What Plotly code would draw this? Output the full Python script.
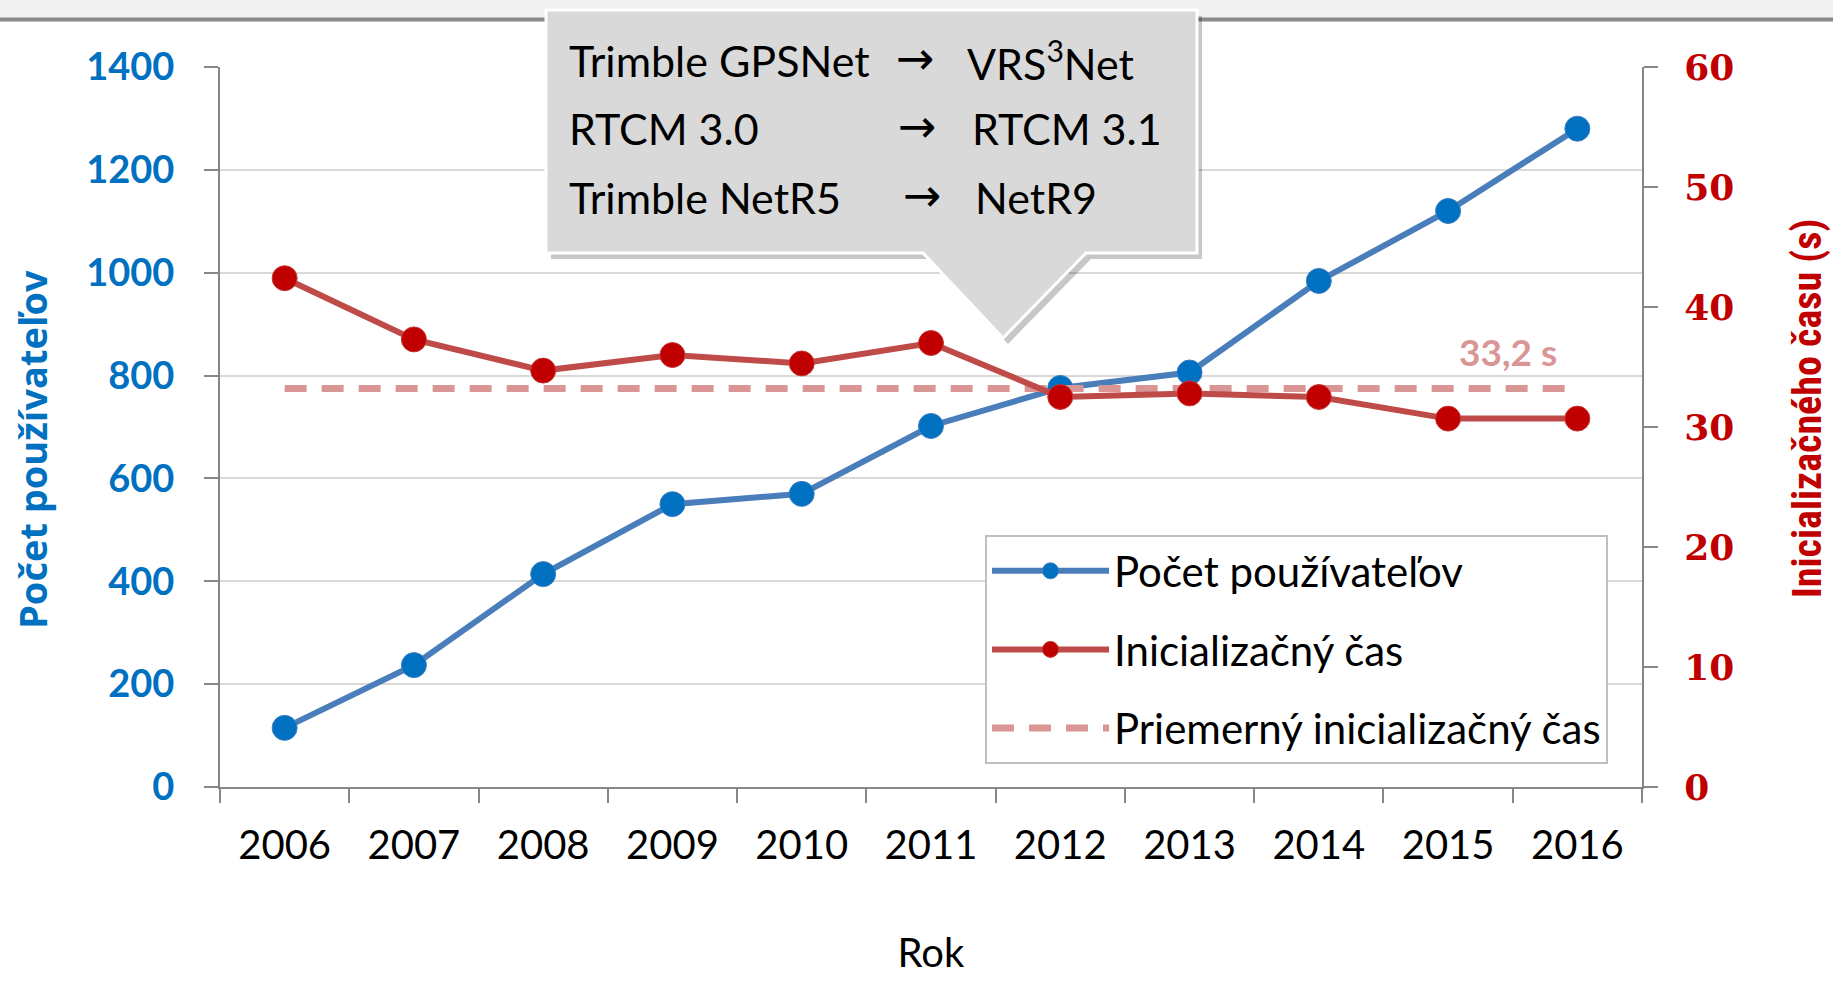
import plotly.graph_objects as go

# ---------------- data ----------------
years = ["2006", "2007", "2008", "2009", "2010", "2011", "2012", "2013", "2014", "2015", "2016"]
users = [115, 237, 414, 550, 570, 702, 776, 806, 984, 1120, 1280]
init_time = [42.4, 37.3, 34.7, 36.0, 35.3, 37.0, 32.5, 32.8, 32.5, 30.7, 30.7]
avg_time = 33.2
avg_line = [avg_time] * len(years)
avg_label = "33,2 s"

left_ticks = [0, 200, 400, 600, 800, 1000, 1200, 1400]
right_ticks = [0, 10, 20, 30, 40, 50, 60]

callout_left = ["Trimble GPSNet", "RTCM 3.0", "Trimble NetR5"]
callout_right = ["VRS<sup>3</sup>Net", "RTCM 3.1", "NetR9"]

# ---------------- geometry helpers (pixels -> paper) ----------------
W, H = 1833, 983
L, R, T, B = 220, 191, 67, 196
PW, PH = W - L - R, H - T - B


def px(x):
    return (x - L) / PW


def py(y):
    return (H - B - y) / PH


FONT = "Lato, 'Open Sans', sans-serif"
BLUE_LINE = "#4A7EBB"
BLUE_MARK = "#0070C0"
RED_LINE = "#BE4B48"
RED_MARK = "#C00000"
PINK = "#DA9694"

fig = go.Figure()

fig.add_trace(go.Scatter(
    x=years, y=users, name="Počet používateľov", mode="lines+markers",
    line=dict(color=BLUE_LINE, width=6),
    marker=dict(color=BLUE_MARK, size=25, line=dict(color="#3F7FC4", width=1)),
    legendrank=1, legendgroup="a", yaxis="y"))

fig.add_trace(go.Scatter(
    x=years, y=avg_line, name="Priemerný inicializačný čas", mode="lines",
    line=dict(color=PINK, width=7, dash="22px,15px"),
    legendrank=3, legendgroup="c", yaxis="y2"))

fig.add_trace(go.Scatter(
    x=years, y=init_time, name="Inicializačný čas", mode="lines+markers",
    line=dict(color=RED_LINE, width=6),
    marker=dict(color=RED_MARK, size=25, line=dict(color="#C43A3A", width=1)),
    legendrank=2, legendgroup="b", yaxis="y2"))

shapes = []
# top band of the window
shapes.append(dict(type="rect", xref="paper", yref="paper",
                   x0=px(0), x1=px(W), y0=py(0), y1=py(18),
                   fillcolor="#F0F0F0", line=dict(width=0), layer="below"))
shapes.append(dict(type="line", xref="paper", yref="paper",
                   x0=px(0), x1=px(W), y0=py(19.5), y1=py(19.5),
                   line=dict(color="#8A8A8A", width=4)))

# callout
bx0, bx1, by0, by1 = 546, 1197, 10, 253
tx0, tx1, apx, apy = 923, 1086, 1003, 338


def callout_path(dx, dy):
    pts = [(bx0, by0), (bx1, by0), (bx1, by1), (tx1, by1), (apx, apy),
           (tx0, by1), (bx0, by1)]
    s = "M " + " L ".join(f"{px(x + dx):.5f},{py(y + dy):.5f}" for x, y in pts) + " Z"
    return s


shapes.append(dict(type="path", xref="paper", yref="paper", path=callout_path(5, 6),
                   fillcolor="rgba(0,0,0,0.22)", line=dict(width=0), layer="above"))
shapes.append(dict(type="path", xref="paper", yref="paper", path=callout_path(0, 0),
                   fillcolor="#D9D9D9", line=dict(color="white", width=3), layer="above"))

annotations = []
rows_y = [60, 128, 197]
arrow_x = [894, 896, 901]
right_x = [965, 970, 973]
for i in range(3):
    annotations.append(dict(xref="paper", yref="paper", x=px(567), y=py(rows_y[i]),
                            text=callout_left[i], showarrow=False, xanchor="left",
                            yanchor="middle", font=dict(family=FONT, size=43, color="black")))
    annotations.append(dict(xref="paper", yref="paper", x=px(arrow_x[i]), y=py(rows_y[i] - 2),
                            text="→", showarrow=False, xanchor="left",
                            yanchor="middle", font=dict(family="DejaVu Sans", size=46, color="black")))
    annotations.append(dict(xref="paper", yref="paper", x=px(right_x[i]), y=py(rows_y[i]),
                            text=callout_right[i], showarrow=False, xanchor="left",
                            yanchor="middle", font=dict(family=FONT, size=43, color="black")))

# average label
annotations.append(dict(xref="paper", yref="paper", x=px(1508), y=py(351),
                        text=avg_label, showarrow=False, xanchor="center", yanchor="middle",
                        font=dict(family=FONT, size=37, color=PINK, weight="bold")))

# axis titles
annotations.append(dict(xref="paper", yref="paper", x=px(32), y=py(449),
                        text="Počet používateľov", showarrow=False, textangle=-90,
                        xanchor="center", yanchor="middle",
                        font=dict(family="'Open Sans', sans-serif", size=38, color=BLUE_MARK,
                                  weight="bold")))
annotations.append(dict(xref="paper", yref="paper", x=px(1807), y=py(409),
                        text="Inicializačného času (s)", showarrow=False, textangle=-90,
                        xanchor="center", yanchor="middle",
                        font=dict(family="'Liberation Sans Narrow', 'Roboto Condensed', sans-serif",
                                  size=40, color=RED_MARK, weight="bold")))

fig.update_layout(
    width=W, height=H,
    margin=dict(l=L, r=R, t=T, b=B, autoexpand=False),
    paper_bgcolor="white", plot_bgcolor="white",
    showlegend=True,
    legend=dict(x=px(985), y=py(535), xanchor="left", yanchor="top",
                bgcolor="white", bordercolor="#BFBFBF", borderwidth=2,
                font=dict(family=FONT, size=42, color="black"),
                itemwidth=117, tracegroupgap=21, traceorder="grouped"),
    xaxis=dict(type="category", range=[-0.5, 10.5], tickson="boundaries",
               showline=True, linecolor="#868686", linewidth=2,
               ticks="outside", ticklen=14, tickwidth=2, tickcolor="#868686",
               showgrid=False, zeroline=False,
               tickfont=dict(family=FONT, size=40, color="black"),
               ticklabelstandoff=22,
               title=dict(text="Rok", font=dict(family=FONT, size=40, color="black"), standoff=72)),
    yaxis=dict(range=[0, 1400], tickvals=left_ticks, showline=True, linecolor="#868686",
               linewidth=2, ticks="outside", ticklen=14, tickwidth=2, tickcolor="#868686",
               showgrid=True, gridcolor="#D9D9D9", gridwidth=2, zeroline=False,
               tickfont=dict(family=FONT, size=38, color=BLUE_MARK, weight="bold"),
               ticklabelstandoff=22),
    yaxis2=dict(range=[0, 60], tickvals=right_ticks, overlaying="y", side="right",
                showline=True, linecolor="#868686", linewidth=2,
                ticks="outside", ticklen=14, tickwidth=2, tickcolor="#868686",
                showgrid=False, zeroline=False,
                tickfont=dict(family="'DejaVu Serif', serif", size=36, color=RED_MARK, weight="bold"),
                ticklabelstandoff=19),
    shapes=shapes,
    annotations=annotations,
)

fig.write_html("out.html", config={"displayModeBar": False},
               post_script="document.body.style.margin='0';")
